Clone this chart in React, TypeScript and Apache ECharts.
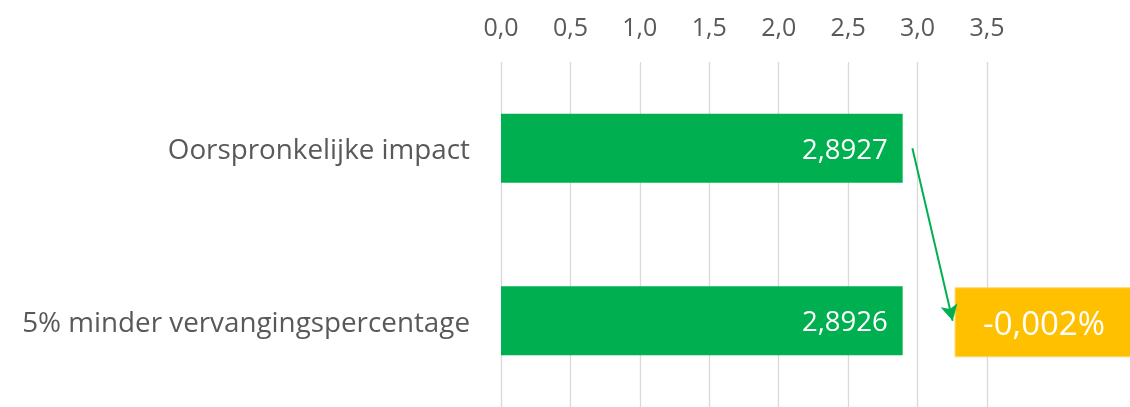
import React, { useEffect, useRef } from "react";
import * as echarts from "echarts";

const categories = ["Oorspronkelijke impact", "5% minder vervangingspercentage"];
const values = [2.8927, 2.8926];
const changeLabel = "-0,002%";
const axisMin = 0;
const axisMax = 3.5;
const axisInterval = 0.5;

const FONT = "'Open Sans', sans-serif";
const GREEN = "#00B050";
const ORANGE = "#FFC000";
const GREY_TEXT = "#595959";

export default function App() {
  const ref = useRef<HTMLDivElement>(null);
  useEffect(() => {
    if (!ref.current) return;
    const chart = echarts.init(ref.current, null, { renderer: "svg" });
    const fmt = (v: number, d: number) => v.toFixed(d).replace(".", ",");
    chart.setOption({
      animation: false,
      grid: { left: 501, right: 143, top: 62, bottom: -3, containLabel: false },
      xAxis: {
        type: "value",
        position: "top",
        min: axisMin,
        max: axisMax,
        interval: axisInterval,
        axisLine: { show: false },
        axisTick: { show: false },
        axisLabel: {
          color: GREY_TEXT,
          fontSize: 25,
          fontFamily: FONT,
          margin: 24,
          formatter: (v: number) => fmt(v, 1),
        },
        splitLine: { lineStyle: { color: "#D9D9D9", width: 1.3 } },
      },
      yAxis: {
        type: "category",
        inverse: true,
        data: categories,
        axisLine: { show: false },
        axisTick: { show: false },
        axisLabel: {
          color: GREY_TEXT,
          fontSize: 27.8,
          fontFamily: FONT,
          margin: 31,
        },
      },
      series: [
        {
          type: "bar",
          data: values,
          barWidth: "40%",
          itemStyle: { color: GREEN },
          label: {
            show: true,
            position: "insideRight",
            distance: 15,
            color: "#FFFFFF",
            fontSize: 27.5,
            fontFamily: FONT,
            formatter: (p: any) => fmt(p.value, 4),
          },
          markLine: {
            silent: true,
            symbol: ["none", "arrow"],
            symbolSize: [13, 16],
            label: { show: false },
            lineStyle: { color: GREEN, width: 2, type: "solid" },
            data: [
              [
                { coord: [values[0] + 0.07, 0] },
                { coord: [values[0] + 0.36, 1] },
              ],
            ],
          },
        },
      ],
    });
    const p = chart.convertToPixel({ gridIndex: 0 }, [3.27, 1]) as number[];
    chart.setOption({
      graphic: [
        {
          type: "group",
          x: p[0],
          y: p[1],
          children: [
            {
              type: "rect",
              shape: { x: 0, y: -33, width: 180, height: 69 },
              style: { fill: ORANGE, stroke: "#FFD966", lineWidth: 1 },
            },
            {
              type: "text",
              x: 89,
              y: 2,
              style: {
                text: changeLabel,
                fill: "#FFFFFF",
                fontSize: 33,
                fontFamily: FONT,
                align: "center",
                verticalAlign: "middle",
              },
            },
          ],
        },
      ],
    });
    return () => chart.dispose();
  }, []);
  return (
    <div
      ref={ref}
      style={{ position: "fixed", left: 0, top: 0, width: 1130, height: 407 }}
    />
  );
}
